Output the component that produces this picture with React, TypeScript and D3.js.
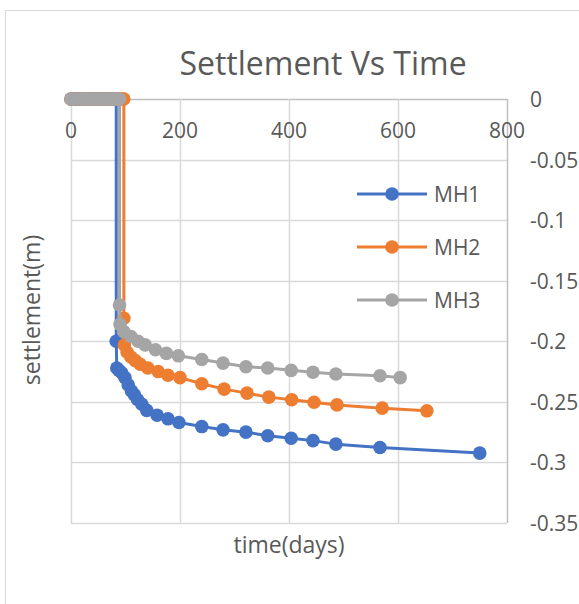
import React from "react";
import * as d3 from "d3";

const mh1Time = [0, 5, 10, 15, 20, 25, 30, 35, 40, 45, 50, 55, 60, 65, 70, 75, 80, 83, 83, 84, 88, 93, 99, 105, 111, 116, 122, 130, 139, 158, 178, 198, 240, 279, 321, 361, 404, 444, 486, 567, 750];
const mh1Settle = [0, 0, 0, 0, 0, 0, 0, 0, 0, 0, 0, 0, 0, 0, 0, 0, 0, 0, -0.2, -0.222, -0.224, -0.226, -0.23, -0.236, -0.241, -0.244, -0.248, -0.252, -0.257, -0.261, -0.264, -0.267, -0.2704, -0.2731, -0.275, -0.278, -0.28, -0.282, -0.2849, -0.2877, -0.2923];

const mh2Time = [0, 5, 10, 15, 20, 25, 30, 35, 40, 45, 50, 55, 60, 65, 70, 75, 80, 85, 90, 95, 97, 97, 98, 103, 110, 118, 127, 141, 160, 178, 200, 240, 281, 323, 363, 405, 446, 488, 571, 653];
const mh2Settle = [0, 0, 0, 0, 0, 0, 0, 0, 0, 0, 0, 0, 0, 0, 0, 0, 0, 0, 0, 0, 0, -0.181, -0.203, -0.209, -0.213, -0.216, -0.219, -0.222, -0.225, -0.228, -0.23, -0.235, -0.2395, -0.2428, -0.2461, -0.2483, -0.2503, -0.2525, -0.2552, -0.2574];

const mh3Time = [0, 5, 10, 15, 20, 25, 30, 35, 40, 45, 50, 55, 60, 65, 70, 75, 80, 85, 89, 89, 90, 97, 110, 123, 136, 155, 175, 197, 240, 279, 321, 361, 404, 444, 486, 567, 604];
const mh3Settle = [0, 0, 0, 0, 0, 0, 0, 0, 0, 0, 0, 0, 0, 0, 0, 0, 0, 0, 0, -0.17, -0.186, -0.192, -0.196, -0.2, -0.203, -0.207, -0.21, -0.212, -0.215, -0.218, -0.221, -0.222, -0.224, -0.2255, -0.227, -0.2285, -0.23];

const seriesNames = ["MH1", "MH2", "MH3"];
const seriesColors = ["#4472C4", "#ED7D31", "#A5A5A5"];
const xTicks = [0, 200, 400, 600, 800];
const yTicks = [0, -0.05, -0.1, -0.15, -0.2, -0.25, -0.3, -0.35];

const FONT = "'Open Sans', sans-serif";
const TEXT = "#595959";

export default function App() {
  const x = d3.scaleLinear().domain([0, 800]).range([71, 507]);
  const y = d3.scaleLinear().domain([-0.35, 0]).range([523, 99]);

  const series = [
    { name: seriesNames[0], color: seriesColors[0], t: mh1Time, s: mh1Settle },
    { name: seriesNames[1], color: seriesColors[1], t: mh2Time, s: mh2Settle },
    { name: seriesNames[2], color: seriesColors[2], t: mh3Time, s: mh3Settle },
  ];

  const line = d3
    .line<[number, number]>()
    .x((d) => x(d[0]))
    .y((d) => y(d[1]));

  const legendY = [194, 247, 300];
  const R = 6.8;

  return (
    <svg
      width={579}
      height={604}
      style={{ position: "absolute", left: 0, top: 0, background: "#fff" }}
      fontFamily={FONT}
    >
      <rect x={0} y={0} width={579} height={604} fill="#fff" />
      <rect x={5.5} y={10.5} width={700} height={700} fill="#fff" stroke="#D9D9D9" strokeWidth={1} />

      {/* title */}
      <text x={323} y={75} textAnchor="middle" fontSize={32} fill={TEXT}>
        Settlement Vs Time
      </text>

      {/* horizontal gridlines */}
      {yTicks.map((v) => (
        <line key={"hy" + v} x1={x(0)} x2={x(800)} y1={Math.round(y(v)) + 0.5} y2={Math.round(y(v)) + 0.5}
          stroke={v === 0 ? "#BFBFBF" : "#D9D9D9"} strokeWidth={1.5} />
      ))}
      {/* vertical gridlines */}
      {xTicks.map((v) => (
        <line key={"vx" + v} x1={Math.round(x(v)) + 0.5} x2={Math.round(x(v)) + 0.5} y1={y(0)} y2={y(-0.35)}
          stroke={v === 800 ? "#BFBFBF" : "#D9D9D9"} strokeWidth={1.5} />
      ))}

      {/* x tick labels */}
      {xTicks.map((v) => (
        <text key={"xl" + v} x={x(v)} y={138} textAnchor="middle" fontSize={21} fill={TEXT}>
          {String(v)}
        </text>
      ))}
      {/* y tick labels */}
      {yTicks.map((v) => (
        <text key={"yl" + v} x={530} y={y(v)} dominantBaseline="central" fontSize={21} fill={TEXT}>
          {String(v)}
        </text>
      ))}

      {/* axis titles */}
      <text x={289} y={553} textAnchor="middle" fontSize={23} fill={TEXT}>
        time(days)
      </text>
      <text transform="translate(40,310) rotate(-90)" textAnchor="middle" fontSize={23} fill={TEXT}>
        settlement(m)
      </text>

      {/* series */}
      {series.map((sr) => {
        const pts: [number, number][] = sr.t.map((t, i) => [t, sr.s[i]]);
        return (
          <g key={sr.name}>
            <path d={line(pts) || ""} fill="none" stroke={sr.color} strokeWidth={3} strokeLinejoin="round" />
            {pts.map((p, i) => (
              <circle key={i} cx={x(p[0])} cy={y(p[1])} r={R} fill={sr.color} />
            ))}
          </g>
        );
      })}

      {/* legend */}
      {series.map((sr, i) => (
        <g key={"lg" + sr.name}>
          <line x1={357} x2={427} y1={legendY[i]} y2={legendY[i]} stroke={sr.color} strokeWidth={3} />
          <circle cx={392} cy={legendY[i]} r={R} fill={sr.color} />
          <text x={434} y={legendY[i]} dominantBaseline="central" fontSize={21} fill={TEXT}>
            {sr.name}
          </text>
        </g>
      ))}
    </svg>
  );
}
